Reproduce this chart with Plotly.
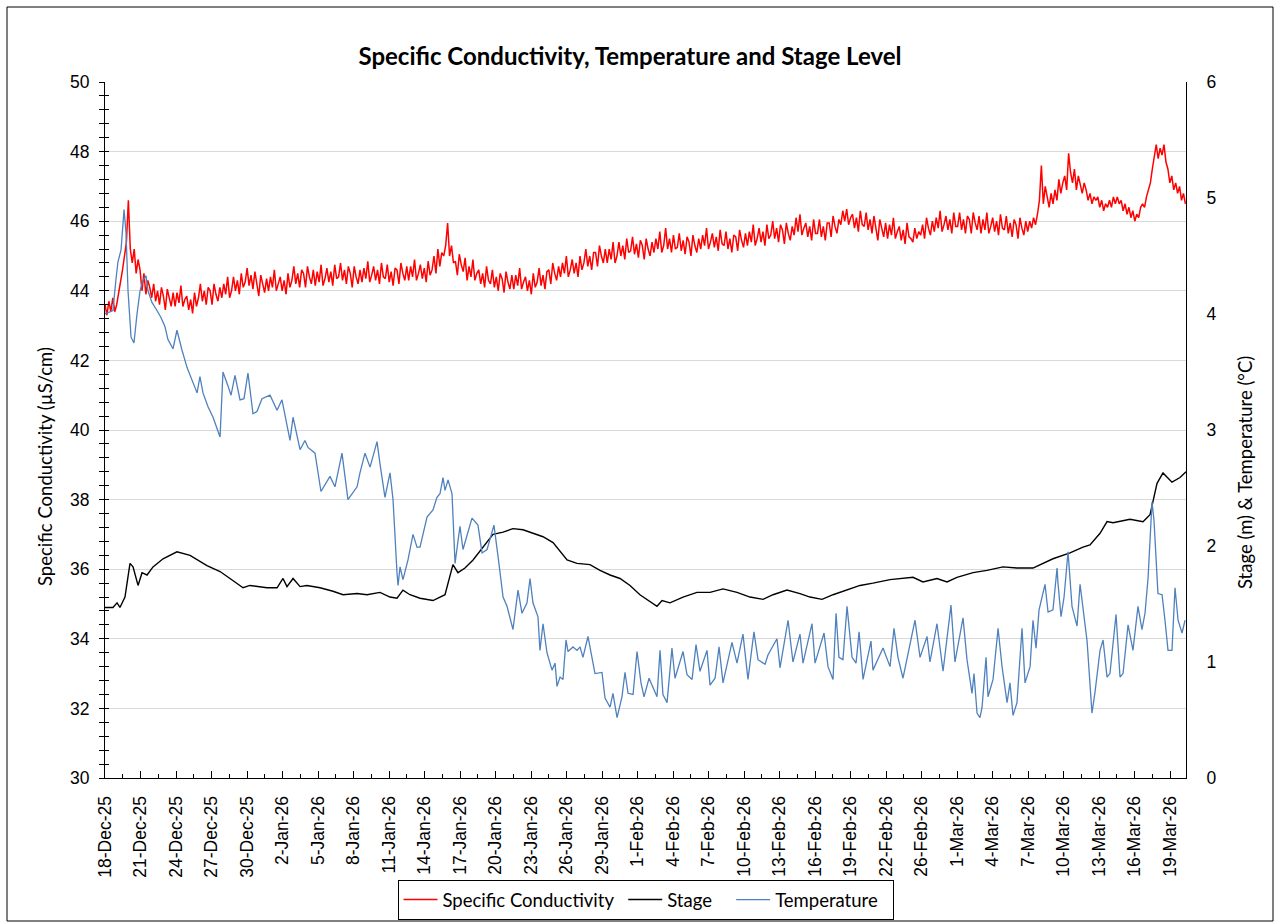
import plotly.graph_objects as go
from datetime import datetime, timedelta

# ---------------- data ----------------
start = datetime(2025, 12, 18, 2, 24)
tick_step_days = 3.04
axis_span_days = 92.55

tick_labels = ["18-Dec-25", "21-Dec-25", "24-Dec-25", "27-Dec-25", "30-Dec-25",
               "2-Jan-26", "5-Jan-26", "8-Jan-26", "11-Jan-26", "14-Jan-26",
               "17-Jan-26", "20-Jan-26", "23-Jan-26", "26-Jan-26", "29-Jan-26",
               "1-Feb-26", "4-Feb-26", "7-Feb-26", "10-Feb-26", "13-Feb-26",
               "16-Feb-26", "19-Feb-26", "22-Feb-26", "26-Feb-26", "1-Mar-26",
               "4-Mar-26", "7-Mar-26", "10-Mar-26", "13-Mar-26", "16-Mar-26",
               "19-Mar-26"]

series_names = ["Specific Conductivity", "Stage", "Temperature"]

# specific conductivity (uS/cm), one reading every 4 hours (6 per day, one row = 2 days)
cond_step_days = 1 / 6
conductivity = [
    43.6, 43.3, 43.7, 43.4, 43.8, 43.4,   43.6, 43.9, 44.2, 44.6, 45.0, 45.4,
    46.6, 45.2, 44.8, 45.2, 44.5, 44.9,   44.6, 44.0, 44.5, 43.9, 44.3, 44.1,
    43.8, 44.2, 43.7, 44.0, 43.6, 44.1,   43.85, 43.45, 44.05, 43.75, 43.55, 43.95,
    43.55, 43.95, 43.65, 44.15, 43.55, 43.75,   43.85, 43.45, 43.75, 43.35, 43.95, 43.55,
    43.8, 44.2, 43.7, 44.0, 43.6, 44.1,   44.0, 43.6, 44.2, 43.9, 43.7, 44.1,
    43.8, 44.2, 43.9, 44.4, 43.8, 44.0,   44.4, 44.0, 44.3, 43.9, 44.5, 44.1,
    44.25, 44.65, 44.15, 44.45, 44.05, 44.55,   44.25, 43.85, 44.45, 44.15, 43.95, 44.35,
    44.0, 44.4, 44.1, 44.6, 44.0, 44.2,   44.4, 44.0, 44.3, 43.9, 44.5, 44.1,
    44.3, 44.7, 44.2, 44.5, 44.1, 44.6,   44.5, 44.1, 44.7, 44.4, 44.2, 44.6,
    44.15, 44.55, 44.25, 44.75, 44.15, 44.35,   44.65, 44.25, 44.55, 44.15, 44.75, 44.35,
    44.4, 44.8, 44.3, 44.6, 44.2, 44.7,   44.5, 44.1, 44.7, 44.4, 44.2, 44.6,
    44.25, 44.65, 44.35, 44.85, 44.25, 44.45,   44.7, 44.3, 44.6, 44.2, 44.8, 44.4,
    44.35, 44.75, 44.25, 44.55, 44.15, 44.65,   44.6, 44.2, 44.8, 44.5, 44.3, 44.7,
    44.3, 44.7, 44.4, 44.9, 44.3, 44.5,   44.75, 44.35, 44.65, 44.25, 44.85, 44.45,
    44.6, 45.0, 44.5, 45.2, 44.7, 45.1,   45.0, 45.3, 45.95, 45.0, 45.3, 44.8,
    44.85, 44.45, 45.05, 44.75, 44.55, 44.95,   44.3, 44.7, 44.4, 44.9, 44.3, 44.5,
    44.6, 44.2, 44.5, 44.1, 44.7, 44.3,   44.2, 44.6, 44.1, 44.4, 44.0, 44.5,
    44.35, 43.95, 44.55, 44.25, 44.05, 44.45,   44.05, 44.45, 44.15, 44.65, 44.05, 44.25,
    44.4, 44.0, 44.3, 43.9, 44.5, 44.1,   44.25, 44.65, 44.15, 44.45, 44.05, 44.55,
    44.6, 44.2, 44.8, 44.5, 44.3, 44.7,   44.4, 44.8, 44.5, 45.0, 44.4, 44.6,
    44.9, 44.5, 44.8, 44.4, 45.0, 44.6,   44.8, 45.2, 44.7, 45.0, 44.6, 45.1,
    45.1, 44.7, 45.3, 45.0, 44.8, 45.2,   44.8, 45.2, 44.9, 45.4, 44.8, 45.0,
    45.4, 45.0, 45.3, 44.9, 45.5, 45.1,   45.15, 45.55, 45.05, 45.35, 44.95, 45.45,
    45.3, 44.9, 45.5, 45.2, 45.0, 45.4,   45.1, 45.5, 45.2, 45.7, 45.1, 45.3,
    45.8, 45.2, 45.5, 45.1, 45.6, 45.2,   45.25, 45.65, 45.15, 45.45, 45.05, 45.55,
    45.4, 45.0, 45.6, 45.3, 45.1, 45.5,   45.2, 45.6, 45.3, 45.8, 45.2, 45.4,
    45.65, 45.25, 45.55, 45.15, 45.75, 45.35,   45.3, 45.7, 45.2, 45.5, 45.1, 45.6,
    45.55, 45.15, 45.75, 45.45, 45.25, 45.65,   45.3, 45.7, 45.4, 45.9, 45.3, 45.5,
    45.8, 45.4, 45.7, 45.3, 45.9, 45.5,   45.6, 46.0, 45.5, 45.8, 45.4, 45.9,
    45.75, 45.35, 45.95, 45.65, 45.45, 45.85,   45.6, 46.1, 45.7, 46.2, 45.6, 45.8,
    45.95, 45.55, 45.85, 45.45, 46.05, 45.65,   45.65, 46.05, 45.55, 45.85, 45.45, 45.95,
    45.95, 45.55, 46.15, 45.85, 45.65, 46.05,   45.9, 46.3, 46.0, 46.35, 45.9, 46.1,
    46.2, 45.8, 46.1, 45.7, 46.3, 45.9,   45.85, 46.25, 45.75, 46.05, 45.65, 46.15,
    45.85, 45.45, 46.05, 45.75, 45.55, 45.95,   45.5, 45.9, 45.6, 46.1, 45.5, 45.7,
    45.85, 45.45, 45.75, 45.35, 45.95, 45.55,   45.5, 45.4, 45.8, 45.5, 45.7, 45.6,
    45.9, 45.5, 46.1, 45.8, 45.6, 46.0,   45.7, 46.1, 45.8, 46.3, 45.7, 45.9,
    46.15, 45.75, 46.05, 45.65, 46.25, 45.85,   45.85, 46.25, 45.75, 46.05, 45.65, 46.15,
    46.05, 45.65, 46.25, 45.95, 45.75, 46.15,   45.65, 46.05, 45.75, 46.25, 45.65, 45.85,
    46.1, 45.7, 46.0, 45.6, 46.2, 45.8,   45.75, 46.15, 45.65, 45.95, 45.55, 46.05,
    45.9, 45.5, 46.1, 45.8, 45.6, 46.0,   45.7, 46.0, 45.8, 46.1, 45.9, 46.2,
    46.6, 47.6, 46.5, 47.0, 46.7, 46.4,   46.8, 46.5, 46.9, 46.6, 47.2, 46.8,
    47.1, 47.3, 46.9, 47.95, 47.4, 47.1,   47.5, 46.9, 47.3, 47.0, 46.8, 47.1,
    46.9, 46.6, 46.8, 46.5, 46.7, 46.6,   46.7, 46.4, 46.6, 46.3, 46.5, 46.4,
    46.6, 46.4, 46.7, 46.5, 46.7, 46.5,   46.6, 46.3, 46.5, 46.2, 46.4, 46.1,
    46.3, 46.0, 46.2, 46.1, 46.4, 46.5,   46.4, 46.7, 46.9, 47.1, 47.5, 47.9,
    48.2, 47.8, 48.1, 47.9, 48.2, 47.7,   47.5, 47.1, 47.3, 46.9, 47.1, 46.8,
    47.0, 46.6, 46.8, 46.5,
]

# temperature (deg C): day offset from start, value
temp_days = [
    0.00, 0.68, 0.94, 1.11, 1.37, 1.63, 1.80, 1.97, 2.23, 2.48,
    2.74, 3.00, 3.25, 3.51, 3.68, 4.02, 4.45, 4.79, 5.14, 5.39,
    5.82, 6.16, 6.59, 7.02, 7.45, 7.88, 8.13, 8.39, 8.82, 9.25,
    9.85, 10.10, 10.53, 10.79, 11.13, 11.56, 11.90, 12.24, 12.67, 13.01,
    13.44, 14.13, 14.73, 15.15, 15.84, 16.10, 16.70, 17.12, 17.38, 17.98,
    18.49, 18.92, 19.26, 19.69, 20.29, 20.80, 21.58, 21.83, 22.26, 22.69,
    23.29, 23.54, 23.97, 24.40, 24.66, 25.00, 25.09, 25.26, 25.51, 25.94,
    26.37, 26.71, 26.97, 27.57, 28.08, 28.42, 28.68, 28.94, 29.11, 29.37,
    29.71, 29.97, 30.39, 30.65, 30.99, 31.42, 31.93, 32.28, 32.71, 33.30,
    33.65, 34.08, 34.42, 34.93, 35.36, 35.70, 36.13, 36.39, 36.64, 37.07,
    37.24, 37.50, 37.84, 38.27, 38.53, 38.70, 38.96, 39.21, 39.47, 39.64,
    40.07, 40.41, 40.67, 40.92, 41.35, 41.70, 41.95, 42.55, 42.81, 43.24,
    43.49, 43.84, 44.26, 44.52, 44.78, 45.21, 45.55, 45.89, 46.15, 46.58,
    46.92, 47.26, 47.52, 47.77, 48.12, 48.54, 48.80, 49.49, 49.83, 50.26,
    50.60, 50.94, 51.54, 51.80, 52.23, 52.57, 52.91, 53.68, 54.11, 54.62,
    55.05, 55.56, 55.91, 56.51, 56.76, 57.53, 57.79, 58.48, 58.90, 59.50,
    59.76, 60.53, 60.79, 61.56, 61.90, 62.33, 62.59, 62.84, 63.18, 63.53,
    63.96, 64.30, 64.56, 64.90, 65.58, 65.75, 66.61, 67.21, 67.55, 67.89,
    68.32, 68.75, 69.35, 69.78, 70.38, 70.63, 71.23, 71.75, 72.43, 72.77,
    73.46, 73.80, 74.23, 74.40, 74.66, 74.91, 75.09, 75.43, 75.60, 76.03,
    76.46, 76.80, 77.23, 77.48, 77.74, 78.08, 78.51, 78.77, 79.20, 79.45,
    79.71, 79.97, 80.48, 80.74, 81.16, 81.51, 81.59, 81.85, 82.11, 82.45,
    82.79, 83.22, 83.48, 84.08, 84.50, 84.76, 85.19, 85.45, 85.79, 86.04,
    86.56, 86.90, 87.16, 87.59, 88.01, 88.44, 88.78, 89.04, 89.30, 89.64,
    89.81, 90.15, 90.50, 90.75, 91.01, 91.35, 91.61, 91.87, 92.21, 92.47,
]
temperature = [
    4.00, 4.03, 4.30, 4.45, 4.55, 4.90, 4.70, 4.20, 3.80, 3.75,
    4.00, 4.20, 4.29, 4.33, 4.20, 4.10, 4.03, 3.97, 3.89, 3.78,
    3.70, 3.86, 3.69, 3.54, 3.43, 3.32, 3.46, 3.32, 3.20, 3.11,
    2.94, 3.50, 3.38, 3.30, 3.47, 3.26, 3.27, 3.49, 3.14, 3.16,
    3.27, 3.30, 3.17, 3.26, 2.91, 3.11, 2.83, 2.91, 2.85, 2.80,
    2.47, 2.55, 2.60, 2.51, 2.80, 2.40, 2.51, 2.63, 2.80, 2.68,
    2.90, 2.71, 2.42, 2.63, 2.40, 1.77, 1.66, 1.82, 1.71, 1.88,
    2.10, 1.99, 1.99, 2.25, 2.31, 2.42, 2.45, 2.59, 2.48, 2.57,
    2.45, 1.85, 2.17, 1.97, 2.08, 2.24, 2.18, 1.94, 1.97, 2.18,
    1.91, 1.56, 1.48, 1.28, 1.62, 1.42, 1.51, 1.72, 1.51, 1.39,
    1.10, 1.33, 1.08, 0.93, 0.99, 0.79, 0.87, 0.85, 1.19, 1.09,
    1.13, 1.10, 1.13, 1.04, 1.22, 1.03, 0.90, 0.91, 0.69, 0.61,
    0.73, 0.52, 0.70, 0.91, 0.73, 0.72, 1.09, 0.82, 0.70, 0.86,
    0.78, 0.70, 1.10, 0.72, 0.65, 1.12, 0.86, 1.09, 0.89, 0.85,
    1.15, 0.92, 1.10, 0.80, 0.86, 1.13, 0.82, 1.17, 0.99, 1.24,
    0.85, 1.26, 1.02, 0.98, 1.06, 1.20, 0.95, 1.36, 1.00, 1.24,
    0.99, 1.33, 0.99, 1.25, 0.96, 0.85, 1.42, 1.04, 1.02, 1.48,
    1.04, 0.99, 1.26, 0.85, 1.18, 0.93, 1.12, 0.96, 1.29, 1.04,
    0.86, 1.07, 1.36, 1.04, 1.22, 1.00, 1.33, 0.92, 1.49, 1.00,
    1.38, 1.02, 0.73, 0.90, 0.56, 0.52, 0.61, 1.04, 0.70, 0.85,
    1.29, 0.96, 0.65, 0.82, 0.54, 0.65, 1.29, 0.82, 0.96, 1.36,
    1.12, 1.45, 1.67, 1.43, 1.45, 1.81, 1.68, 1.39, 1.56, 1.95,
    1.48, 1.31, 1.67, 1.18, 0.56, 0.74, 1.10, 1.19, 0.87, 0.90,
    1.41, 0.87, 0.90, 1.32, 1.10, 1.48, 1.28, 1.42, 1.72, 2.38,
    2.22, 1.59, 1.58, 1.36, 1.10, 1.10, 1.64, 1.36, 1.25, 1.36,
]

# stage (m): day offset from start, value
stage_days = [
    0.00, 0.68, 1.03, 1.28, 1.71, 2.14, 2.40, 2.83, 3.17, 3.60,
    4.11, 4.97, 6.16, 7.28, 8.73, 9.85, 10.70, 11.82, 12.41, 13.01,
    13.87, 14.73, 15.24, 15.58, 16.10, 16.70, 17.29, 18.41, 19.52, 20.38,
    21.58, 22.43, 23.54, 24.40, 25.00, 25.51, 26.11, 26.97, 28.08, 29.11,
    29.37, 29.79, 30.22, 30.82, 31.51, 32.36, 33.22, 34.08, 34.93, 35.79,
    36.64, 37.50, 38.36, 38.96, 39.56, 40.41, 41.52, 42.38, 43.24, 44.09,
    44.95, 45.80, 46.66, 47.26, 47.69, 48.37, 49.49, 50.68, 51.80, 52.91,
    54.11, 55.22, 56.34, 57.19, 58.39, 59.50, 60.36, 61.39, 62.33, 62.93,
    63.53, 64.64, 65.75, 67.21, 69.18, 70.03, 71.23, 72.09, 72.94, 74.32,
    75.51, 76.88, 78.08, 79.45, 81.16, 82.62, 83.73, 84.33, 85.19, 85.79,
    86.30, 87.76, 88.87, 89.47, 90.07, 90.58, 91.35, 92.04, 92.55,
]
stage = [
    1.47, 1.47, 1.51, 1.47, 1.56, 1.85, 1.82, 1.66, 1.77, 1.75,
    1.82, 1.89, 1.95, 1.92, 1.83, 1.78, 1.72, 1.64, 1.66, 1.65,
    1.64, 1.64, 1.72, 1.65, 1.72, 1.65, 1.66, 1.64, 1.61, 1.58,
    1.59, 1.58, 1.60, 1.56, 1.55, 1.62, 1.58, 1.55, 1.53, 1.58,
    1.69, 1.84, 1.77, 1.81, 1.88, 1.99, 2.10, 2.12, 2.15, 2.14,
    2.11, 2.08, 2.03, 1.95, 1.88, 1.85, 1.84, 1.79, 1.75, 1.72,
    1.66, 1.58, 1.52, 1.48, 1.53, 1.51, 1.56, 1.60, 1.60, 1.63,
    1.60, 1.56, 1.54, 1.58, 1.62, 1.59, 1.56, 1.54, 1.58, 1.60,
    1.62, 1.66, 1.68, 1.71, 1.73, 1.69, 1.72, 1.69, 1.73, 1.77,
    1.79, 1.82, 1.81, 1.81, 1.89, 1.94, 1.99, 2.01, 2.11, 2.21,
    2.20, 2.23, 2.21, 2.27, 2.54, 2.63, 2.55, 2.59, 2.64,
]

# ---------------- build ----------------
cond_t = [start + timedelta(days=i * cond_step_days) for i in range(len(conductivity))]
temp_t = [start + timedelta(days=d) for d in temp_days]
stage_t = [start + timedelta(days=d) for d in stage_days]
tick_t = [start + timedelta(days=k * tick_step_days) for k in range(len(tick_labels))]
x_end = start + timedelta(days=axis_span_days)
day_ms = 86400000

W, H = 1274, 922
PL, PR, PT, PB = 105, 1186, 82, 778          # plot area in pixels
PW, PH = PR - PL, PB - PT


def px_x(x):
    return (x - PL) / PW


def px_y(y):
    return (PB - y) / PH


NB = "\u00a0"  # legend spacing (non-breaking space)
TICK_FONT = dict(family="Liberation Sans, Arial, sans-serif", size=17.5, color="black")
TEXT_FONT = "Lato, Carlito, Calibri, sans-serif"

fig = go.Figure()
fig.add_trace(go.Scatter(x=cond_t, y=conductivity, name=series_names[0] + NB,
                         mode="lines", line=dict(color="#FF0000", width=1.5), yaxis="y"))
fig.add_trace(go.Scatter(x=stage_t, y=stage, name=series_names[1] + NB * 3,
                         mode="lines", line=dict(color="#000000", width=1.4), yaxis="y2"))
fig.add_trace(go.Scatter(x=temp_t, y=temperature, name=series_names[2] + NB * 2,
                         mode="lines", line=dict(color="#4F81BD", width=1.3), yaxis="y2"))
# helper trace so the inner tick overlay axis is rendered
fig.add_trace(go.Scatter(x=[start], y=[None], yaxis="y3", showlegend=False,
                         hoverinfo="skip", mode="lines"))

fig.update_layout(
    width=W, height=H, autosize=False,
    margin=dict(l=PL, r=W - PR, t=PT, b=H - PB),
    paper_bgcolor="white", plot_bgcolor="white",
    showlegend=True,
    title=dict(text="<b>Specific Conductivity, Temperature and Stage Level</b>",
               x=0.4945, xref="container", xanchor="center",
               y=1 - 57 / H, yref="container", yanchor="middle",
               font=dict(family=TEXT_FONT, size=24, color="black")),
    xaxis=dict(type="date", range=[start, x_end],
               tickmode="array", tickvals=tick_t, ticktext=tick_labels,
               tickangle=-90, ticks="inside", ticklen=7, tickcolor="black",
               showline=True, linecolor="black", linewidth=1,
               showgrid=False, zeroline=False, tickfont=TICK_FONT,
               ticklabelstandoff=10, automargin=False,
               minor=dict(ticks="inside", ticklen=4, tickcolor="black",
                          dtick=tick_step_days / 2 * day_ms,
                          tick0=start.strftime("%Y-%m-%d %H:%M:%S"),
                          showgrid=False)),
    yaxis=dict(range=[30, 50], tick0=30, dtick=2,
               showgrid=True, gridcolor="#D9D9D9", gridwidth=1,
               showline=True, linecolor="black", linewidth=1,
               ticks="outside", ticklen=5, tickcolor="black",
               minor=dict(dtick=0.4, tick0=30, ticks="outside", ticklen=5,
                          tickcolor="black", showgrid=False),
               zeroline=False, tickfont=TICK_FONT, ticklabelstandoff=6,
               automargin=False),
    yaxis3=dict(overlaying="y", anchor="x", side="left", range=[30, 50],
                tick0=30, dtick=2, showticklabels=False,
                ticks="inside", ticklen=4, tickcolor="black",
                minor=dict(dtick=0.4, tick0=30, ticks="inside", ticklen=4,
                           tickcolor="black", showgrid=False),
                showgrid=False, zeroline=False, showline=False, automargin=False),
    yaxis2=dict(overlaying="y", anchor="x", side="right", range=[0, 6],
                tick0=0, dtick=1, showgrid=False, zeroline=False,
                showline=True, linecolor="black", linewidth=1,
                ticks="", tickfont=TICK_FONT, ticklabelstandoff=16,
                automargin=False),
    annotations=[
        dict(text="Specific Conductivity (µS/cm)", textangle=-90,
             xref="paper", yref="paper", x=px_x(45), y=px_y(467),
             xanchor="center", yanchor="middle", showarrow=False,
             font=dict(family=TEXT_FONT, size=18.5, color="black")),
        dict(text="Stage (m) &amp; Temperature (°C)", textangle=-90,
             xref="paper", yref="paper", x=px_x(1245), y=px_y(473),
             xanchor="center", yanchor="middle", showarrow=False,
             font=dict(family=TEXT_FONT, size=18.5, color="black")),
    ],
    legend=dict(orientation="h", x=0.5, xanchor="center",
                yref="container", y=1 - 920 / H, yanchor="bottom",
                bordercolor="black", borderwidth=1, bgcolor="white",
                font=dict(family=TEXT_FONT, size=18.5, color="black"),
                itemwidth=34, traceorder="normal"),
    shapes=[dict(type="rect", xref="paper", yref="paper",
                 x0=px_x(7), x1=px_x(1273), y0=px_y(921), y1=px_y(7),
                 line=dict(color="black", width=1), fillcolor="rgba(0,0,0,0)",
                 layer="below")],
)

fig.write_html("out.html",
               config={"displayModeBar": False},
               post_script="document.body.style.margin='0px';"
                           "document.body.style.overflow='hidden';")
